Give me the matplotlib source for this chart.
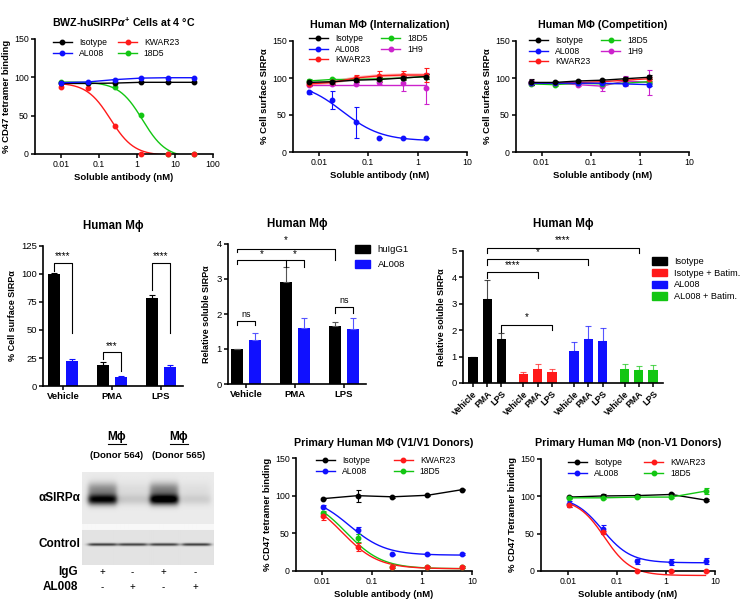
import numpy as np
import matplotlib
matplotlib.use("Agg")
import matplotlib.pyplot as plt
from matplotlib.lines import Line2D
from matplotlib.patches import Patch

plt.rcParams["font.family"] = ["Liberation Sans", "DejaVu Sans"]
plt.rcParams["mathtext.fontset"] = "custom"
plt.rcParams["mathtext.rm"] = "Liberation Sans:bold"
plt.rcParams["mathtext.it"] = "Liberation Sans:bold:italic"
plt.rcParams["mathtext.bf"] = "Liberation Sans:bold"

W, H = 746, 603
BLACK, BLUE, RED, GREEN, MAGENTA = "#000000", "#1010ff", "#ff1a1a", "#13c613", "#cc22cc"

# ---- top left: BWZ cells ----
conc_a = [0.01024, 0.0512, 0.256, 1.28, 6.4, 32]
a_isotype = [92, 92, 92.5, 93.5, 93.5, 93.5]
a_al008 = [93, 94, 97, 99, 99.5, 99.5]
a_kwar23 = [87, 86, 37, 0.5, 0, 0]
a_18d5 = [94, 93, 88, 51, 0.5, 0]
# 4PL fit parameters: top, bottom, IC50, hill
a_fit_kwar23 = (93, -2, 0.2, 1.4)
a_fit_18d5 = (94, -5, 1.4, 1.4)

# ---- top middle / right: internalization, competition ----
conc_b = [0.0062, 0.0185, 0.0556, 0.167, 0.5, 1.5]
b_isotype = [94, 95, 97, 98, 100, 102]
b_isotype_err = [3, 3, 3, 3, 3, 3]
b_al008 = [81, 70, 40, 19, 19, 19]
b_al008_err = [2, 12, 21, 0.5, 0.5, 0.5]
b_kwar23 = [92, 94, 100, 103, 104, 104]
b_kwar23_err = [3, 3, 4, 7, 5, 9]
b_18d5 = [96, 98, 98, 99, 100, 102]
b_18d5_err = [3, 2, 2, 2, 2, 3]
b_1h9 = [91, 92, 92, 94, 93, 86]
b_1h9_err = [2, 2, 2, 2, 10, 21]
b_fit_al008 = (95, 15, 0.03, 1.1)
b_fit_1h9 = 90.5

c_isotype = [94, 94, 96, 97, 99, 101]
c_isotype_err = [4, 2, 1, 1, 2, 3]
c_al008 = [93, 93, 93, 93, 92, 91]
c_al008_err = [2, 1, 1, 1, 1, 2]
c_kwar23 = [93, 93, 94, 95, 97, 99]
c_kwar23_err = [2, 1, 1, 1, 2, 3]
c_18d5 = [92, 91, 93, 92, 93, 95]
c_18d5_err = [2, 2, 1, 3, 2, 3]
c_1h9 = [94, 93, 91, 89, 96, 94]
c_1h9_err = [3, 2, 2, 7, 7, 17]

# ---- middle row bars ----
groups = ["Vehicle", "PMA", "LPS"]
d_higg = [100, 19, 79]
d_higg_err = [0.5, 2, 2.5]
d_al008 = [22, 8, 17]
d_al008_err = [2, 1, 1.5]

e_higg = [1.0, 2.9, 1.65]
e_higg_err = [0.0, 0.45, 0.12]
e_al008 = [1.25, 1.6, 1.57]
e_al008_err = [0.2, 0.3, 0.33]

f_isotype = [1.0, 3.17, 1.65]
f_isotype_err = [0.0, 0.73, 0.23]
f_iso_batim = [0.33, 0.53, 0.4]
f_iso_batim_err = [0.09, 0.19, 0.12]
f_al008 = [1.22, 1.65, 1.6]
f_al008_err = [0.33, 0.52, 0.5]
f_al008_batim = [0.53, 0.5, 0.5]
f_al008_batim_err = [0.19, 0.15, 0.18]

# ---- western blot band intensities (lanes: IgG, AL008, IgG, AL008) ----
blot_sirpa = [0.9, 0.13, 1.0, 0.11]
blot_control = [0.62, 0.6, 0.6, 0.62]
blot_igg = ["+", "-", "+", "-"]
blot_al008 = ["-", "+", "-", "+"]

# ---- bottom row: primary macrophages ----
conc_h = [0.01024, 0.0512, 0.256, 1.28, 6.4]
h_isotype = [96, 100, 98.5, 100.5, 108]
h_isotype_err = [1, 8, 1, 1, 1]
h_al008 = [85, 54, 22, 22, 22.5]
h_al008_err = [2, 5, 1, 1, 1]
h_kwar23 = [73, 32, 5.5, 5.5, 5.5]
h_kwar23_err = [5, 5, 1, 1, 1]
h_18d5 = [77, 44, 5.5, 5.5, 5.5]
h_18d5_err = [3, 5, 1, 1, 1]
h_fit_al008 = (100, 21, 0.035, 1.2)
h_fit_kwar23 = (100, 3, 0.025, 1.2)
h_fit_18d5 = (100, 3, 0.03, 1.2)

i_isotype = [99, 100.5, 101, 102.5, 95]
i_isotype_err = [1, 2, 2, 2, 1]
i_al008 = [90, 56, 13, 12, 13]
i_al008_err = [4, 6, 3, 4, 4]
i_kwar23 = [88, 52, 0.5, 0, 0]
i_kwar23_err = [2, 2, 1, 1, 1]
i_18d5 = [98, 98, 99, 99, 107]
i_18d5_err = [1, 2, 1, 1, 4]
i_fit_al008 = (100, 11, 0.05, 1.5)
i_fit_kwar23 = (97, -6, 0.055, 1.6)

log_ticks = [0.01, 0.1, 1, 10, 100]
log_labels = ["0.01", "0.1", "1", "10", "100"]


def px_axes(fig, x0, y0, x1, y1):
    return fig.add_axes([x0 / W, 1 - y1 / H, (x1 - x0) / W, (y1 - y0) / H])


def ftext(fig, x, y, s, **kw):
    return fig.text(x / W, 1 - y / H, s, **kw)


def prism(ax, labelsize=6.3):
    for s in ("top", "right"):
        ax.spines[s].set_visible(False)
    for s in ("left", "bottom"):
        ax.spines[s].set_linewidth(1.2)
    ax.tick_params(width=1.1, length=3, labelsize=labelsize, pad=1.5)


def fourpl(x, p):
    top, bottom, ic50, hill = p
    return bottom + (top - bottom) / (1 + (x / ic50) ** hill)


def dose_axes(fig, box, xlim, xmax_tick, ylabel, title):
    ax = px_axes(fig, *box)
    prism(ax)
    ax.set_xscale("log")
    ax.set_xlim(*xlim)
    ax.set_ylim(0, 150)
    n = log_ticks.index(xmax_tick) + 1
    ax.set_xticks(log_ticks[:n])
    ax.set_xticklabels(log_labels[:n])
    ax.minorticks_off()
    ax.set_yticks([0, 50, 100, 150])
    ax.set_xlabel("Soluble antibody (nM)", fontsize=6.8, fontweight="bold", labelpad=3)
    ax.set_ylabel(ylabel, fontsize=6.8, fontweight="bold", labelpad=2)
    ax.set_title(title, fontsize=7.7, fontweight="bold", pad=9)
    return ax


def points(ax, x, y, color, err=None, line=True, z=3):
    if err is not None:
        ax.errorbar(x, y, yerr=err, fmt="none", ecolor=color, elinewidth=0.8,
                    capsize=1.8, capthick=0.8, zorder=z, clip_on=False)
    ax.plot(x, y, "o", color=color, ms=3.2, zorder=z + 0.5, clip_on=False,
            ls="-" if line else "none", lw=1.0)


def curve(ax, x, p, color, clip=True):
    xs = np.logspace(np.log10(x[0]), np.log10(x[-1]), 200)
    ax.plot(xs, fourpl(xs, p), color=color, lw=1.0, zorder=2, clip_on=clip)


def dose_legend(fig, ax, names, colors, left, top, colsp):
    hs = [Line2D([], [], color=c, marker="o", ms=3.2, lw=1.0) for c in colors]
    ax.legend(hs, names, ncol=2, frameon=False, fontsize=6.2, loc="upper left",
              bbox_to_anchor=(left / W, 1 - top / H), bbox_transform=fig.transFigure,
              borderpad=0, borderaxespad=0, handlelength=2.2, handletextpad=0.8,
              labelspacing=0.2, columnspacing=colsp)


def bracket(ax, x0, x1, y, y0, y1, label, dy, fs=7):
    ax.plot([x0, x0, x1, x1], [y0, y, y, y1], color="k", lw=0.8, clip_on=False)
    ax.text((x0 + x1) / 2, y + dy, label, ha="center", va="bottom", fontsize=fs)


fig = plt.figure(figsize=(W / 100, H / 100), dpi=100)

# ---------- panel: BWZ ----------
ax = dose_axes(fig, (35, 39, 213, 154), (0.00207, 100), 100, "% CD47 tetramer binding",
               r"BWZ-huSIRP$\alpha^{+}$ Cells at 4 °C")
curve(ax, conc_a, a_fit_kwar23, RED)
curve(ax, conc_a, a_fit_18d5, GREEN)
points(ax, conc_a, a_18d5, GREEN, line=False)
points(ax, conc_a, a_kwar23, RED, line=False)
points(ax, conc_a, a_isotype, BLACK)
points(ax, conc_a, a_al008, BLUE)
dose_legend(fig, ax, ["Isotype", "AL008", "KWAR23", "18D5"], [BLACK, BLUE, RED, GREEN],
            53, 38, 1.3)

# ---------- panel: internalization ----------
ax = dose_axes(fig, (293, 41, 467, 152), (0.003, 10), 10, "% Cell surface SIRPα",
               "Human MΦ (Internalization)")
curve(ax, conc_b, b_fit_al008, BLUE)
ax.plot([conc_b[0], conc_b[-1]], [b_fit_1h9, b_fit_1h9], color=MAGENTA, lw=1.0, zorder=2)
ax.plot(conc_b, b_kwar23, color=RED, lw=2.5, alpha=0.3, zorder=2)
points(ax, conc_b, b_al008, BLUE, b_al008_err, line=False)
points(ax, conc_b, b_1h9, MAGENTA, b_1h9_err, line=False)
points(ax, conc_b, b_18d5, GREEN, b_18d5_err)
points(ax, conc_b, b_kwar23, RED, b_kwar23_err)
points(ax, conc_b, b_isotype, BLACK, b_isotype_err)
dose_legend(fig, ax, ["Isotype", "AL008", "KWAR23", "18D5", "1H9"],
            [BLACK, BLUE, RED, GREEN, MAGENTA], 309, 34, 1.3)

# ---------- panel: competition ----------
ax = dose_axes(fig, (516, 41, 689, 152), (0.003, 10), 10, "% Cell surface SIRPα",
               "Human MΦ (Competition)")
points(ax, conc_b, c_1h9, MAGENTA, c_1h9_err)
points(ax, conc_b, c_18d5, GREEN, c_18d5_err)
points(ax, conc_b, c_kwar23, RED, c_kwar23_err)
points(ax, conc_b, c_al008, BLUE, c_al008_err)
points(ax, conc_b, c_isotype, BLACK, c_isotype_err)
dose_legend(fig, ax, ["Isotype", "AL008", "KWAR23", "18D5", "1H9"],
            [BLACK, BLUE, RED, GREEN, MAGENTA], 529, 36, 1.3)

# ---------- panel: surface SIRPa bars ----------
ax = px_axes(fig, 43, 246, 183, 386)
prism(ax, 6.8)
xg = np.arange(len(groups))
off, bw = 0.185, 0.25
ax.bar(xg - off, d_higg, bw, color=BLACK, zorder=2)
ax.bar(xg + off, d_al008, bw, color=BLUE, zorder=2)
ax.errorbar(xg - off, d_higg, yerr=[[0] * 3, d_higg_err], fmt="none", ecolor=BLACK,
            elinewidth=0.8, capsize=2.5, capthick=0.8)
ax.errorbar(xg + off, d_al008, yerr=[[0] * 3, d_al008_err], fmt="none", ecolor=BLUE,
            elinewidth=0.8, capsize=2.5, capthick=0.8)
ax.set_xlim(-0.41, 2.45)
ax.set_ylim(0, 125)
ax.set_yticks([0, 25, 50, 75, 100, 125])
ax.set_xticks(xg)
ax.set_xticklabels(groups, fontweight="bold", fontsize=6.8)
ax.set_ylabel("% Cell surface SIRPα", fontsize=6.5, fontweight="bold", labelpad=3)
ax.set_title("Human Mϕ", fontsize=8.3, fontweight="bold", pad=12)
bracket(ax, -off, off, 110, 103, 47, "****", 1.5)
bracket(ax, 1 - off, 1 + off, 30, 24, 13, "***", 1.5)
bracket(ax, 2 - off, 2 + off, 110, 86, 47, "****", 1.5)

# ---------- panel: soluble SIRPa bars ----------
ax = px_axes(fig, 228, 244, 366, 384)
prism(ax, 6.8)
ax.bar(xg - off, e_higg, bw, color=BLACK, zorder=2)
ax.bar(xg + off, e_al008, bw, color=BLUE, zorder=2)
ax.errorbar(xg - off, e_higg, yerr=[[0] * 3, e_higg_err], fmt="none", ecolor="#555555",
            elinewidth=0.8, capsize=2.5, capthick=0.8)
ax.errorbar(xg + off, e_al008, yerr=[[0] * 3, e_al008_err], fmt="none", ecolor="#5555ff",
            elinewidth=0.8, capsize=2.5, capthick=0.8)
ax.set_xlim(-0.37, 2.45)
ax.set_ylim(0, 4)
ax.set_yticks([0, 1, 2, 3, 4])
ax.set_xticks(xg)
ax.set_xticklabels(groups, fontweight="bold", fontsize=6.8)
ax.set_ylabel("Relative soluble SIRPα", fontsize=6.5, fontweight="bold", labelpad=4)
ax.set_title("Human Mϕ", fontsize=8.3, fontweight="bold", pad=12)
bracket(ax, -off, off, 1.8, 1.68, 1.68, "ns", 0.05, 6.5)
bracket(ax, 2 - off, 2 + off, 2.2, 2.03, 2.03, "ns", 0.05, 6.5)
bracket(ax, -off, 1 - off, 3.55, 3.43, 3.35, "*", 0.02)
bracket(ax, 1 - off, 1 + off, 3.55, 3.55, 3.35, "*", 0.02)
bracket(ax, -off, 2 - off, 3.87, 3.77, 3.55, "*", 0.1)
ax.legend([Patch(color=BLACK), Patch(color=BLUE)], ["huIgG1", "AL008"], frameon=False,
          fontsize=6.8, loc="upper left", bbox_to_anchor=(355 / W, 1 - 245 / H),
          bbox_transform=fig.transFigure, borderpad=0, borderaxespad=0,
          handlelength=1.6, handleheight=0.9, handletextpad=0.8, labelspacing=0.6)

# ---------- panel: soluble SIRPa with batimastat ----------
ax = px_axes(fig, 463, 251, 663, 383)
prism(ax, 6.8)
f_series = [(f_isotype, f_isotype_err, BLACK), (f_iso_batim, f_iso_batim_err, RED),
            (f_al008, f_al008_err, BLUE), (f_al008_batim, f_al008_batim_err, GREEN)]
pos_all, lab_all = [], []
for g, (vals, errs, col) in enumerate(f_series):
    pos = g * 3.55 + np.arange(3)
    ax.bar(pos, vals, 0.65, color=col, zorder=2)
    ax.errorbar(pos, vals, yerr=[[0] * 3, errs], fmt="none", ecolor=col, elinewidth=0.8,
                capsize=2, capthick=0.8, alpha=0.7)
    pos_all += list(pos)
    lab_all += groups
ax.set_xlim(-0.7, 13.35)
ax.set_ylim(0, 5)
ax.set_yticks([0, 1, 2, 3, 4, 5])
ax.set_xticks(pos_all)
ax.set_xticklabels(lab_all, rotation=45, ha="right", rotation_mode="anchor",
                   fontweight="bold", fontsize=6.3)
ax.set_ylabel("Relative soluble SIRPα", fontsize=6.5, fontweight="bold", labelpad=4)
ax.set_title("Human Mϕ", fontsize=8.3, fontweight="bold", pad=17)
bracket(ax, 1, 3 * 3.55 + 1, 5.13, 4.93, 4.93, "****", 0.08)
bracket(ax, 1, 2 * 3.55 + 1, 4.68, 4.48, 4.48, "*", 0.1)
bracket(ax, 1, 3.55 + 1, 4.19, 3.99, 3.99, "****", 0.08)
bracket(ax, 2, 3.55 + 2, 2.19, 1.95, 1.99, "*", 0.1)
ax.legend([Patch(color=c) for _, _, c in f_series],
          ["Isotype", "Isotype + Batim.", "AL008", "AL008 + Batim."], frameon=False,
          fontsize=6.6, loc="upper left", bbox_to_anchor=(652 / W, 1 - 257 / H),
          bbox_transform=fig.transFigure, borderpad=0, borderaxespad=0,
          handlelength=1.6, handleheight=0.9, handletextpad=0.8, labelspacing=0.3)

# ---------- western blot ----------
bx = px_axes(fig, 82, 472, 213, 565)
ih, iw = 93, 131
yy, xx = np.mgrid[0:ih, 0:iw]
img = np.full((ih, iw), 0.08)
img[52:58, :] = 0.03
img[58:, :] += 0.03
lane_x = [20, 50, 81, 113]
for lx, s_int, c_int in zip(lane_x, blot_sirpa, blot_control):
    prof_x = 1 / (1 + np.exp((np.abs(xx - lx) - 14) / 1.5))
    core = np.exp(-((yy - 27) / 5.5) ** 2)
    smear = 0.4 * np.exp(-((yy - 17) / 7) ** 2)
    img += s_int * prof_x * (core + smear)
    img += c_int * prof_x * np.exp(-((yy - 72) / 1.5) ** 2)
bx.imshow(np.clip(img, 0, 1), cmap="gray_r", vmin=0, vmax=1, aspect="auto",
          interpolation="bilinear")
bx.axis("off")
ftext(fig, 80, 498, "αSIRPα", ha="right", va="center", fontsize=8.5, fontweight="bold")
ftext(fig, 80, 544, "Control", ha="right", va="center", fontsize=8.5, fontweight="bold")
ftext(fig, 78, 572, "IgG", ha="right", va="center", fontsize=8.5, fontweight="bold")
ftext(fig, 78, 587, "AL008", ha="right", va="center", fontsize=8.5, fontweight="bold")
for lx, a, b in zip(lane_x, blot_igg, blot_al008):
    ftext(fig, 82 + lx, 572, a, ha="center", va="center", fontsize=7)
    ftext(fig, 82 + lx, 587, b, ha="center", va="center", fontsize=7)
for cx, donor in [(117, "(Donor 564)"), (179, "(Donor 565)")]:
    ftext(fig, cx, 437, "Mϕ", ha="center", va="center", fontsize=8.5, fontweight="bold")
    fig.add_artist(Line2D([(cx - 9) / W, (cx + 9) / W], [1 - 444 / H, 1 - 444 / H],
                          color="k", lw=0.8))
    ftext(fig, cx, 456, donor, ha="center", va="center", fontsize=6.8, fontweight="bold")

# ---------- panel: V1/V1 donors ----------
ax = dose_axes(fig, (296, 458, 472, 571), (0.003, 10), 10, "% CD47 tetramer binding",
               "Primary Human MΦ (V1/V1 Donors)")
curve(ax, conc_h, h_fit_al008, BLUE)
curve(ax, conc_h, h_fit_18d5, GREEN)
curve(ax, conc_h, h_fit_kwar23, RED)
points(ax, conc_h, h_isotype, BLACK, h_isotype_err)
points(ax, conc_h, h_al008, BLUE, h_al008_err, line=False)
points(ax, conc_h, h_18d5, GREEN, h_18d5_err, line=False)
points(ax, conc_h, h_kwar23, RED, h_kwar23_err, line=False)
dose_legend(fig, ax, ["Isotype", "AL008", "KWAR23", "18D5"], [BLACK, BLUE, RED, GREEN],
            316, 456, 2.8)

# ---------- panel: non-V1 donors ----------
ax = dose_axes(fig, (541, 459, 715, 571), (0.0028, 10), 10, "% CD47 Tetramer binding",
               "Primary Human MΦ (non-V1 Donors)")
curve(ax, conc_h, i_fit_al008, BLUE)
curve(ax, conc_h, i_fit_kwar23, RED, clip=False)
points(ax, conc_h, i_isotype, BLACK, i_isotype_err)
points(ax, conc_h, i_18d5, GREEN, i_18d5_err)
points(ax, conc_h, i_al008, BLUE, i_al008_err, line=False)
points(ax, conc_h, i_kwar23, RED, i_kwar23_err, line=False)
dose_legend(fig, ax, ["Isotype", "AL008", "KWAR23", "18D5"], [BLACK, BLUE, RED, GREEN],
            568, 458, 2.6)

fig.savefig("out.png", dpi=100)
